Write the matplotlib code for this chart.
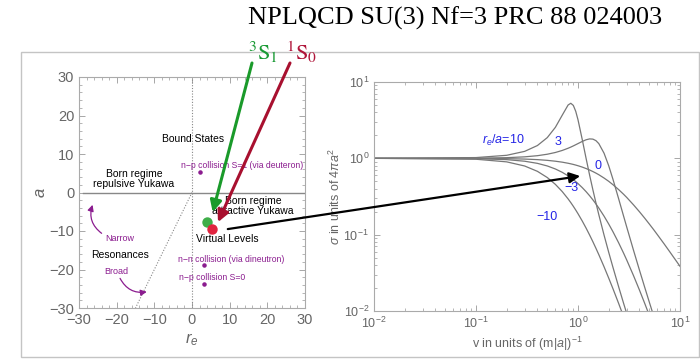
import numpy as np
import matplotlib
matplotlib.use('Agg')
import matplotlib.pyplot as plt
from matplotlib.patches import Rectangle, ConnectionPatch
from matplotlib.ticker import MultipleLocator, LogLocator, NullFormatter

plt.rcParams['font.family'] = ['Liberation Sans', 'DejaVu Sans']
plt.rcParams['mathtext.fontset'] = 'custom'
plt.rcParams['mathtext.rm'] = 'Liberation Sans'
plt.rcParams['mathtext.it'] = 'Liberation Sans:italic'

# ---------------- data ----------------
title = "NPLQCD SU(3) Nf=3 PRC 88 024003"

# lattice results (r_e, a)
lat_labels = ["3S1", "1S0"]
lat_re = [3.9, 5.2]
lat_a = [-7.6, -9.6]
lat_colors = ["#3fae49", "#e0243f"]

# physical nucleon-nucleon points (r_e, a)
phys_labels = ["n\u2212p collision S=1 (via deuteron)",
               "n\u2212n collision (via dineutron)",
               "n\u2212p collision S=0"]
phys_re = [2.1, 3.1, 3.1]
phys_a = [5.4, -18.8, -23.8]

# right panel: sigma / (4 pi a^2) vs v (m|a|)^-1 for several r_e/a
v_vals = [0.01, 0.1, 0.2, 0.3, 0.4, 0.5, 0.6, 0.7, 0.8, 0.85, 0.9, 0.95, 1.0,
          1.1, 1.2, 1.3, 1.4, 1.5, 1.6, 1.8, 2.0, 2.2, 2.5, 2.8, 3.0, 3.5,
          4.0, 4.5, 5.0, 5.5, 6.0, 7.0, 8.0, 10.0]
ratio_labels = ["10", "3", "0", "\u22123", "\u221210"]
sigma_p10 = [1.0, 1.023, 1.096, 1.234, 1.471, 1.869, 2.548, 3.668, 5.0, 5.263,
             4.934, 4.132, 3.2, 1.769, 1.0, 0.6024, 0.3857, 0.2599, 0.1825,
             0.0989, 0.0588, 0.03744, 0.02085, 0.01259, 0.00932, 0.00481]
sigma_p3 = [1.0, 1.005, 1.020, 1.046, 1.083, 1.132, 1.193, 1.268, 1.356, 1.404,
            1.455, 1.508, 1.561, 1.664, 1.750, 1.797, 1.785, 1.704, 1.559,
            1.168, 0.8, 0.5336, 0.2969, 0.1747, 0.1267, 0.06259, 0.03448,
            0.0206, 0.01309, 0.00873]
sigma_0 = [1.0, 0.9975, 0.990, 0.978, 0.962, 0.941, 0.917, 0.891, 0.862, 0.847,
           0.832, 0.816, 0.8, 0.768, 0.735, 0.703, 0.671, 0.640, 0.610, 0.552,
           0.5, 0.452, 0.390, 0.338, 0.308, 0.246, 0.2, 0.165, 0.138, 0.117,
           0.1, 0.0755, 0.0588, 0.0385]
sigma_m3 = [1.0, 0.9901, 0.9613, 0.9165, 0.8594, 0.7944, 0.7256, 0.6563,
            0.5891, 0.5568, 0.5257, 0.4958, 0.4672, 0.4139, 0.3661, 0.3235,
            0.2857, 0.2524, 0.2231, 0.1749, 0.1379, 0.1095, 0.07847, 0.0572,
            0.04675, 0.02911, 0.01887, 0.01267, 0.00878]
sigma_m10 = [0.9997, 0.9731, 0.8989, 0.7936, 0.6757, 0.5602, 0.4561, 0.3673,
             0.2941, 0.2630, 0.2352, 0.2103, 0.1882, 0.1512, 0.1220, 0.0989,
             0.0807, 0.0662, 0.0547, 0.0380, 0.0270, 0.01964, 0.01262, 0.00843]
series = [sigma_p10, sigma_p3, sigma_0, sigma_m3, sigma_m10]

# label positions (v, sigma) for the r_e/a annotations
ratio_lab_v = [0.184, 0.637, 1.57, 0.853, 0.497]
ratio_lab_s = [1.69, 1.64, 0.79, 0.41, 0.170]

# ---------------- figure ----------------
fig = plt.figure(figsize=(7, 3.59), dpi=100)

# outer frame
fig.add_artist(Rectangle((21 / 700, 2 / 359), 678 / 700, 305 / 359,
                         transform=fig.transFigure, fill=False,
                         ec='#c4c4c4', lw=1.0))

tick_col = '#666666'
spine_col = '#aaaaaa'
purple = '#8b1c8f'

axL = fig.add_axes([79 / 700, 51 / 359, 226 / 700, 231 / 359])
axR = fig.add_axes([374 / 700, 48 / 359, 306 / 700, 229 / 359])

for ax in (axL, axR):
    for s in ax.spines.values():
        s.set_color(spine_col)
        s.set_linewidth(0.8)
    ax.tick_params(which='both', direction='in', top=True, right=True,
                   color='#999999', labelcolor=tick_col, labelsize=9)
    ax.tick_params(which='major', length=4, width=0.6)
    ax.tick_params(which='minor', length=2, width=0.5)

# ---- left panel ----
axL.set_xlim(-30, 30)
axL.set_ylim(-30, 30)
axL.xaxis.set_major_locator(MultipleLocator(10))
axL.yaxis.set_major_locator(MultipleLocator(10))
axL.xaxis.set_minor_locator(MultipleLocator(2))
axL.yaxis.set_minor_locator(MultipleLocator(2))
axL.tick_params(labelsize=10.5)

axL.plot([-29, 30], [0, 0], color='#888888', lw=1.0)
axL.plot([0, 0], [-30, 30], color='#888888', lw=0.8, ls=(0, (1, 1.5)))
axL.plot([0, -15], [0, -30], color='#888888', lw=0.8, ls=(0, (1, 1.5)))

axL.scatter(phys_re, phys_a, s=5, color=purple, zorder=3)
for lab, x, y in zip(phys_labels, [13.2, 10.3, 5.4], [6.9, -17.3, -22.2]):
    axL.text(x, y, lab, color=purple, fontsize=6.2, ha='center', va='center')

for x, y, c in zip(lat_re, lat_a, lat_colors):
    axL.plot(x, y, 'o', ms=7.5, color=c, mec='none', zorder=4)

kw = dict(fontsize=7.5, ha='center', va='center', color='black', linespacing=1.1)
axL.text(0.3, 14, "Bound States", **kw)
axL.text(-15.4, 3.5, "Born regime\nrepulsive Yukawa", **kw)
axL.text(16.2, -3.5, "Born regime\nattractive Yukawa", **kw)
axL.text(9.3, -12, "Virtual Levels", **kw)
axL.text(-19.1, -16.2, "Resonances", **kw)
axL.text(-19.1, -12, "Narrow", fontsize=6.5, ha='center', va='center', color=purple)
axL.text(-20.2, -20.4, "Broad", fontsize=6.5, ha='center', va='center', color=purple)

axL.annotate('', xy=(-26.4, -3.2), xytext=(-24.0, -10.6),
             arrowprops=dict(arrowstyle='-|>', color=purple, lw=0.9,
                             connectionstyle='arc3,rad=-0.35',
                             mutation_scale=9, shrinkA=0, shrinkB=0))
axL.annotate('', xy=(-12.0, -25.8), xytext=(-19.1, -22.3),
             arrowprops=dict(arrowstyle='-|>', color=purple, lw=0.9,
                             connectionstyle='arc3,rad=0.35',
                             mutation_scale=9, shrinkA=0, shrinkB=0))

axL.set_xlabel(r'$r_e$', color=tick_col, fontsize=12, labelpad=3)
axL.set_ylabel(r'$a$', color=tick_col, fontsize=12, labelpad=1)

# ---- right panel ----
axR.set_xscale('log')
axR.set_yscale('log')
axR.set_xlim(1e-2, 1e1)
axR.set_ylim(1e-2, 1e1)
axR.xaxis.set_major_locator(LogLocator(base=10, numticks=10))
axR.yaxis.set_major_locator(LogLocator(base=10, numticks=10))
axR.xaxis.set_minor_locator(LogLocator(base=10, subs=np.arange(2, 10), numticks=20))
axR.yaxis.set_minor_locator(LogLocator(base=10, subs=np.arange(2, 10), numticks=20))
axR.xaxis.set_minor_formatter(NullFormatter())
axR.yaxis.set_minor_formatter(NullFormatter())
axR.tick_params(labelsize=9)

for ys in series:
    axR.plot(v_vals[:len(ys)], ys, color='#777777', lw=0.9)

blue = '#2424e6'
for i, (lab, x, y) in enumerate(zip(ratio_labels, ratio_lab_v, ratio_lab_s)):
    txt = (r'$r_e/a$=' + lab) if i == 0 else lab
    axR.text(x, y, txt, color=blue, fontsize=9, ha='center', va='center')

axR.set_xlabel(r'v in units of (m|$a$|)$^{-1}$', color=tick_col, fontsize=9, labelpad=3)
axR.set_ylabel(r'$\sigma$ in units of 4$\pi a^2$', color=tick_col, fontsize=9, labelpad=0)

# ---- title and channel labels ----
fig.text(0.65, 1 - 25 / 359, title, fontsize=19, family='Liberation Serif',
         ha='center', va='baseline')
fig.text(248 / 700, 1 - 60 / 359, r'$^{3}\mathrm{S}_{1}$', color='#1a9a35',
         fontsize=16, math_fontfamily='stix', ha='left', va='baseline')
fig.text(286 / 700, 1 - 60 / 359, r'$^{1}\mathrm{S}_{0}$', color='#b0153a',
         fontsize=16, math_fontfamily='stix', ha='left', va='baseline')

# arrows from channel labels to the lattice points
axL.annotate('', xy=(5.5, -5.1), xytext=(252 / 700, 1 - 63 / 359),
             textcoords='figure fraction', annotation_clip=False,
             arrowprops=dict(arrowstyle='-|>', color='#1a9a2a', lw=2.2,
                             mutation_scale=17, shrinkA=0, shrinkB=0))
axL.annotate('', xy=(6.9, -7.7), xytext=(290 / 700, 1 - 63 / 359),
             textcoords='figure fraction', annotation_clip=False,
             arrowprops=dict(arrowstyle='-|>', color='#a8102f', lw=2.2,
                             mutation_scale=17, shrinkA=0, shrinkB=0))

# black arrow from the lattice point to the cross section panel
con = ConnectionPatch(xyA=(9.5, -9.5), coordsA=axL.transData,
                      xyB=(1.05, 0.586), coordsB=axR.transData,
                      arrowstyle='-|>', color='black', lw=1.6,
                      mutation_scale=16, shrinkA=0, shrinkB=0, zorder=10)
fig.add_artist(con)

fig.savefig('out.png', dpi=100)
